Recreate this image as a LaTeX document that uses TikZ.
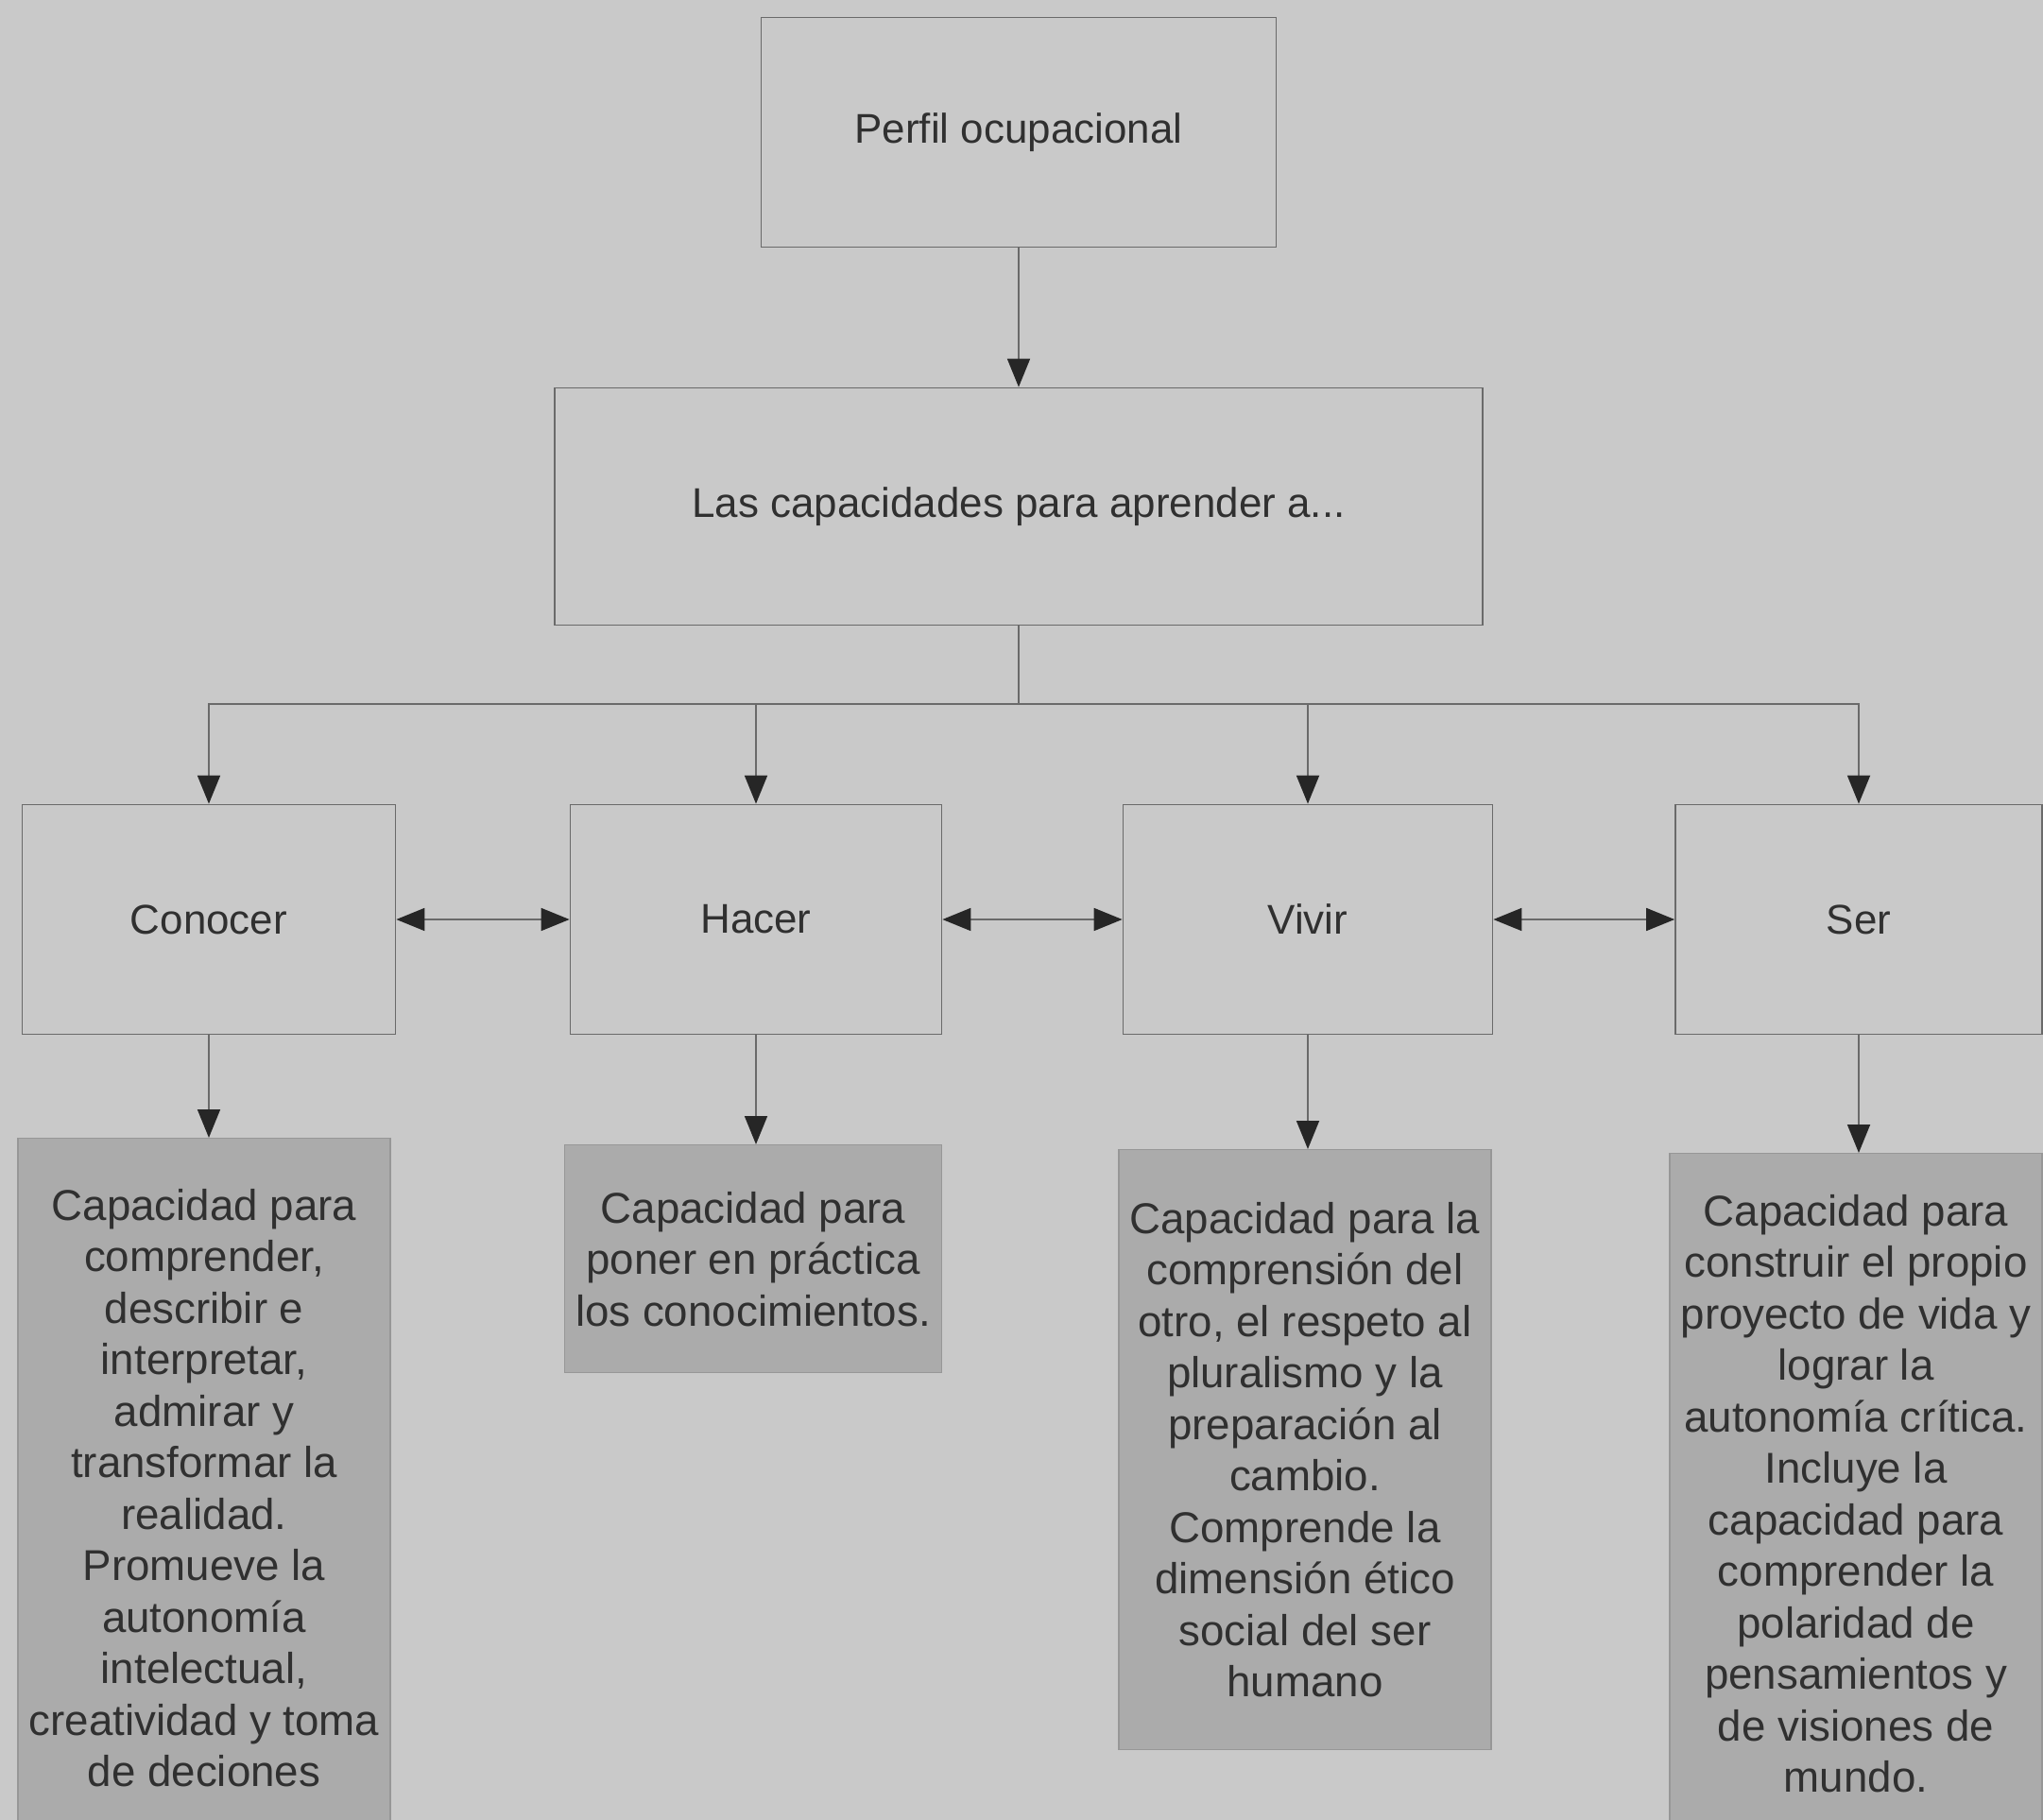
\documentclass[tikz,border=0pt]{standalone}
\usepackage{fontspec}
\setmainfont{Liberation Sans}
\usetikzlibrary{arrows.meta}

\definecolor{paper}{HTML}{C9C9C9}
\definecolor{deskfill}{HTML}{ABABAB}
\definecolor{linegray}{HTML}{6A6A6A}
\definecolor{inkgray}{HTML}{303030}
\definecolor{tipgray}{HTML}{262626}

\tikzset{
  capbox/.style={draw=linegray, line width=0.5pt, fill=paper, text=inkgray, align=center,
    font=\fontsize{12.5}{15.5}\selectfont},
  deskbox/.style={draw=linegray!70, line width=0.4pt, fill=deskfill, text=inkgray, align=center,
    minimum width=3.92cm, font=\fontsize{13}{15.5}\selectfont, anchor=north},
  link/.style={draw=linegray, line width=0.5pt, -{Triangle[length=0.3cm,width=0.24cm,color=tipgray]}},
  twolink/.style={draw=linegray, line width=0.5pt,
    {Triangle[length=0.3cm,width=0.24cm,color=tipgray]}-{Triangle[length=0.3cm,width=0.24cm,color=tipgray]}}
}

\begin{document}
\begin{tikzpicture}
        \fill[paper] (0,0) rectangle (21.62,-19.26);
        \useasboundingbox (0,0) rectangle (21.62,-19.26);

        % Root node
        \node[capbox, minimum width=5.45cm, minimum height=2.43cm] (perfil) at (10.78,-1.40) {Perfil ocupacional};

        % Second stage node
        \node[capbox, minimum width=9.82cm, minimum height=2.51cm] (capac) at (10.78,-5.36) {Las capacidades para aprender a...};
        \draw[link] (perfil) -- (capac);

        % Third stage nodes
        \node[capbox, minimum width=3.95cm, minimum height=2.43cm] (conocer) at (2.21,-9.73) {Conocer};
        \node[capbox, minimum width=3.93cm, minimum height=2.43cm] (hacer) at (8.00,-9.73) {Hacer};
        \node[capbox, minimum width=3.91cm, minimum height=2.43cm] (vivir) at (13.84,-9.73) {Vivir};
        \node[capbox, minimum width=3.88cm, minimum height=2.43cm] (ser) at (19.67,-9.73) {Ser};

        \coordinate (split) at (10.78,-7.45);
        \draw[draw=linegray, line width=0.5pt] (capac) -- (split);
        \draw[link] (split) -| (conocer);
        \draw[link] (split) -| (hacer);
        \draw[link] (split) -| (vivir);
        \draw[link] (split) -| (ser);

        \draw[twolink] (conocer) -- (hacer);
        \draw[twolink] (hacer) -- (vivir);
        \draw[twolink] (vivir) -- (ser);

        % Fourth stage nodes
        \node[deskbox, minimum height=7.40cm] (conocerd) at (2.16,-12.04) {Capacidad para\\ comprender,\\ describir e\\ interpretar,\\ admirar y\\ transformar la\\ realidad.\\ Promueve la\\ autonomía\\ intelectual,\\ creatividad y toma\\ de deciones};
        \draw[link] (conocer) -- (conocer |- conocerd.north);

        \node[deskbox, minimum height=2.41cm] (hacerd) at (7.97,-12.11) {Capacidad para\\ poner en práctica\\ los conocimientos.};
        \draw[link] (hacer) -- (hacer |- hacerd.north);

        \node[deskbox, minimum height=6.35cm] (vivird) at (13.81,-12.16) {Capacidad para la\\ comprensión del\\ otro, el respeto al\\ pluralismo y la\\ preparación al\\ cambio.\\ Comprende la\\ dimensión ético\\ social del ser\\ humano};
        \draw[link] (vivir) -- (vivir |- vivird.north);

        \node[deskbox, minimum height=7.20cm] (serd) at (19.64,-12.20) {Capacidad para\\ construir el propio\\ proyecto de vida y\\ lograr la\\ autonomía crítica.\\ Incluye la\\ capacidad para\\ comprender la\\ polaridad de\\ pensamientos y\\ de visiones de\\ mundo.};
        \draw[link] (ser) -- (ser |- serd.north);
    \end{tikzpicture}
\end{document}
